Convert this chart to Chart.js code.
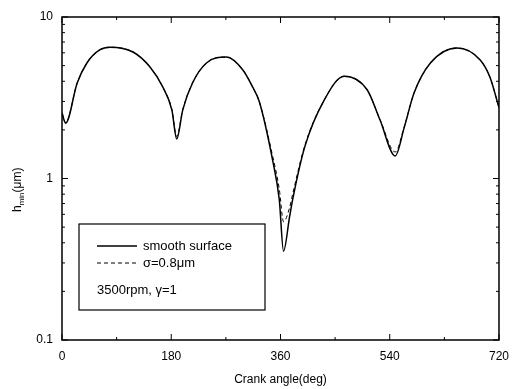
<!DOCTYPE html>
<html>
<head>
<meta charset="utf-8">
<script src="https://cdn.jsdelivr.net/npm/chart.js@4"></script>
<style>
  html, body { margin: 0; padding: 0; background: #fff; }
  #wrap { width: 518px; height: 389px; }
</style>
</head>
<body>
<div id="wrap"><canvas id="hmin"></canvas></div>
<script>
// crank angle (deg) and minimum film thickness (um)
var angles = [0, 6, 25, 41, 62, 79, 117, 145, 166, 181, 189, 199, 215, 238, 271, 298, 314, 325, 347, 358, 365, 375, 380, 400, 432, 465, 503, 524, 549, 564, 580, 607, 651, 689, 705, 720];
var smooth = [2.54, 2.2, 3.9, 5.19, 6.25, 6.5, 6.07, 4.9, 3.69, 2.66, 1.76, 2.66, 3.9, 5.19, 5.65, 4.7, 3.69, 3.0, 1.30, 0.74, 0.355, 0.58, 0.74, 1.57, 3.06, 4.3, 3.53, 2.30, 1.38, 2.08, 3.38, 5.19, 6.43, 5.42, 4.25, 2.75];
var rough  = [2.54, 2.22, 3.9, 5.19, 6.25, 6.5, 6.07, 4.9, 3.69, 2.68, 1.82, 2.68, 3.9, 5.19, 5.65, 4.7, 3.69, 3.0, 1.38, 0.86, 0.54, 0.66, 0.8, 1.6, 3.06, 4.3, 3.53, 2.32, 1.46, 2.1, 3.38, 5.19, 6.43, 5.42, 4.25, 2.75];
var xTicks = [0, 180, 360, 540, 720];
var yTicks = [0.1, 1, 10];

var legendItems = ['smooth surface', 'σ=0.8μm'];
var note = '3500rpm, γ=1';

Chart.defaults.font.family = '"Liberation Sans", Arial, sans-serif';
Chart.defaults.font.size = 12;
Chart.defaults.color = '#000000';

function pts(vals) {
  return angles.map(function (a, i) { return { x: a, y: vals[i] }; });
}

// frame + inward ticks, like the original plot
var frame = {
  id: 'frame',
  afterDraw: function (chart) {
    var c = chart.ctx, a = chart.chartArea, sx = chart.scales.x, sy = chart.scales.y;
    c.save();
    c.strokeStyle = '#000';
    c.lineWidth = 1.5;
    c.strokeRect(a.left, a.top, a.right - a.left, a.bottom - a.top);
    c.lineWidth = 1;
    c.beginPath();
    for (var v = 0; v <= 720; v += 90) {
      var px = sx.getPixelForValue(v);
      var len = (v % 180 === 0) ? 6 : 3;
      c.moveTo(px, a.bottom); c.lineTo(px, a.bottom - len);
      c.moveTo(px, a.top); c.lineTo(px, a.top + len);
    }
    [0.1, 1].forEach(function (d) {
      for (var k = 1; k <= 10; k++) {
        var py = sy.getPixelForValue(d * k);
        var l = (k === 1 || k === 10) ? 6 : 3;
        c.moveTo(a.left, py); c.lineTo(a.left + l, py);
        c.moveTo(a.right, py); c.lineTo(a.right - l, py);
      }
    });
    c.stroke();

    // y title with subscript
    c.translate(18, 190);
    c.rotate(-Math.PI / 2);
    c.textBaseline = 'middle';
    c.textAlign = 'left';
    c.font = '12px "Liberation Sans", Arial, sans-serif';
    var w0 = c.measureText('h').width;
    var t0 = -22;
    c.fillText('h', t0, 0);
    c.font = '8px "Liberation Sans", Arial, sans-serif';
    c.fillText('min', t0 + w0, 4);
    var w1 = c.measureText('min').width;
    c.font = '12px "Liberation Sans", Arial, sans-serif';
    c.fillText('(μm)', t0 + w0 + w1, 0);
    c.restore();
  }
};

// legend box inside the plot
var box = {
  id: 'box',
  afterDraw: function (chart) {
    var c = chart.ctx;
    c.save();
    c.fillStyle = '#fff';
    c.fillRect(79, 224, 186, 86);
    c.strokeStyle = '#000';
    c.lineWidth = 1.2;
    c.strokeRect(79, 224, 186, 86);
    c.lineWidth = 1.3;
    c.beginPath(); c.moveTo(97, 246); c.lineTo(137, 246); c.stroke();
    c.lineWidth = 1;
    c.setLineDash([4, 3]);
    c.beginPath(); c.moveTo(97, 263); c.lineTo(137, 263); c.stroke();
    c.setLineDash([]);
    c.fillStyle = '#000';
    c.font = '13px "Liberation Sans", Arial, sans-serif';
    c.textBaseline = 'middle';
    c.fillText(legendItems[0], 143, 246);
    c.fillText(legendItems[1], 143, 263);
    c.fillText(note, 97, 290);
    c.restore();
  }
};

var ctx = document.getElementById('hmin').getContext('2d');
var chart = new Chart(ctx, {
  type: 'line',
  data: {
    datasets: [{
      label: legendItems[0],
      data: pts(smooth),
      borderColor: '#000',
      borderWidth: 1.5,
      pointRadius: 0,
      cubicInterpolationMode: 'monotone'
    }, {
      label: legendItems[1],
      data: pts(rough),
      borderColor: '#000',
      borderWidth: 1,
      borderDash: [4, 3],
      pointRadius: 0,
      cubicInterpolationMode: 'monotone'
    }]
  },
  options: {
    responsive: true,
    maintainAspectRatio: false,
    animation: false,
    layout: { padding: { left: 0, top: 17, right: 18, bottom: 0 } },
    plugins: {
      legend: { display: false },
      tooltip: { enabled: false }
    },
    scales: {
      x: {
        type: 'linear',
        min: 0,
        max: 720,
        afterBuildTicks: function (s) { s.ticks = xTicks.map(function (v) { return { value: v }; }); },
        grid: { display: false, drawTicks: false },
        border: { display: false },
        ticks: { padding: 9, maxRotation: 0, font: { size: 12 } },
        title: { display: true, text: 'Crank angle(deg)', font: { size: 12 }, padding: { top: 6, bottom: 2 } },
        afterFit: function (s) { s.height = 49; }
      },
      y: {
        type: 'logarithmic',
        min: 0.1,
        max: 10,
        afterBuildTicks: function (s) { s.ticks = yTicks.map(function (v) { return { value: v }; }); },
        grid: { display: false, drawTicks: false },
        border: { display: false },
        ticks: {
          padding: 9,
          font: { size: 12 },
          callback: function (v) { return String(v); }
        },
        afterFit: function (s) { s.width = 62; }
      }
    }
  },
  plugins: [frame, box]
});
</script>
</body>
</html>
